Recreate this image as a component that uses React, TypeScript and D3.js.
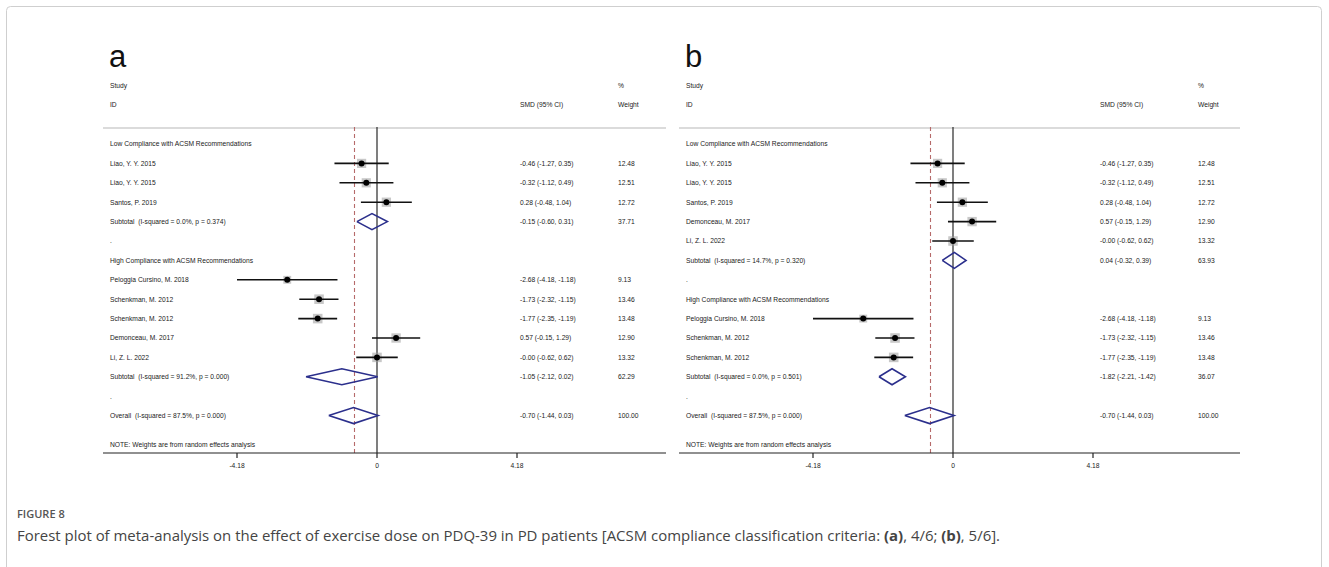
import React from 'react';
import * as d3 from 'd3';

// study-level values
const lowA = [
  { study: 'Liao, Y. Y. 2015', smd: -0.46, lo: -1.27, hi: 0.35, w: 12.48, txt: '-0.46 (-1.27, 0.35)' },
  { study: 'Liao, Y. Y. 2015', smd: -0.32, lo: -1.12, hi: 0.49, w: 12.51, txt: '-0.32 (-1.12, 0.49)' },
  { study: 'Santos, P. 2019', smd: 0.28, lo: -0.48, hi: 1.04, w: 12.72, txt: '0.28 (-0.48, 1.04)' },
];
const highA = [
  { study: 'Peloggia Cursino, M. 2018', smd: -2.68, lo: -4.18, hi: -1.18, w: 9.13, txt: '-2.68 (-4.18, -1.18)' },
  { study: 'Schenkman, M. 2012', smd: -1.73, lo: -2.32, hi: -1.15, w: 13.46, txt: '-1.73 (-2.32, -1.15)' },
  { study: 'Schenkman, M. 2012', smd: -1.77, lo: -2.35, hi: -1.19, w: 13.48, txt: '-1.77 (-2.35, -1.19)' },
  { study: 'Demonceau, M. 2017', smd: 0.57, lo: -0.15, hi: 1.29, w: 12.90, txt: '0.57 (-0.15, 1.29)' },
  { study: 'Li, Z. L. 2022', smd: -0.0, lo: -0.62, hi: 0.62, w: 13.32, txt: '-0.00 (-0.62, 0.62)' },
];
const lowB = [lowA[0], lowA[1], lowA[2], highA[3], highA[4]];
const highB = [highA[0], highA[1], highA[2]];

const subA = [
  { label: 'Subtotal  (I-squared = 0.0%, p = 0.374)', smd: -0.15, lo: -0.60, hi: 0.31, w: '37.71', txt: '-0.15 (-0.60, 0.31)' },
  { label: 'Subtotal  (I-squared = 91.2%, p = 0.000)', smd: -1.05, lo: -2.12, hi: 0.02, w: '62.29', txt: '-1.05 (-2.12, 0.02)' },
];
const subB = [
  { label: 'Subtotal  (I-squared = 14.7%, p = 0.320)', smd: 0.04, lo: -0.32, hi: 0.39, w: '63.93', txt: '0.04 (-0.32, 0.39)' },
  { label: 'Subtotal  (I-squared = 0.0%, p = 0.501)', smd: -1.82, lo: -2.21, hi: -1.42, w: '36.07', txt: '-1.82 (-2.21, -1.42)' },
];
const overall = { label: 'Overall  (I-squared = 87.5%, p = 0.000)', smd: -0.70, lo: -1.44, hi: 0.03, w: '100.00', txt: '-0.70 (-1.44, 0.03)' };

const groupNames = ['Low Compliance with ACSM Recommendations', 'High Compliance with ACSM Recommendations'];
const ticks = [-4.18, 0, 4.18];
const tickLabels = ['-4.18', '0', '4.18'];

const panels = [
  { letter: 'a', groups: [lowA, highA], subs: subA, left: 103, right: 666, textX: 110, zero: 377, smdX: 520, wX: 618 },
  { letter: 'b', groups: [lowB, highB], subs: subB, left: 679, right: 1240, textX: 686, zero: 953, smdX: 1100, wX: 1198 },
];

const FONT = '"Liberation Sans", Arial, sans-serif';
const FS = 6.7;
const TXT = '#1a1a1a';
const NAVY = '#2b2f8c';

const Panel = ({ p }: { p: any }) => {
  const x = d3.scaleLinear().domain([-4.18, 4.18]).range([p.zero - 140, p.zero + 140]);
  const y = d3.scaleLinear().domain([0, 1]).range([144, 163.4]);
  const top = 127, axisY = 453;

  // build the row list
  const rows: any[] = [];
  let i = 0;
  p.groups.forEach((g: any[], gi: number) => {
    rows.push({ kind: 'head', i: i++, label: groupNames[gi] });
    g.forEach((s) => rows.push({ kind: 'study', i: i++, ...s }));
    rows.push({ kind: 'sum', i: i++, ...p.subs[gi] });
    rows.push({ kind: 'dot', i: i++ });
  });
  rows.push({ kind: 'sum', i: i, ...overall });
  const noteRow = i + 1.5;

  const diamond = (r: any) => {
    const yy = y(r.i);
    return d3.line()([
      [x(r.lo), yy], [x(r.smd), yy - 8], [x(r.hi), yy], [x(r.smd), yy + 8], [x(r.lo), yy],
    ] as [number, number][]) as string;
  };

  const refX = Math.round(x(overall.smd)) + 0.5;

  return (
    <g fontFamily={FONT} fontSize={FS} fill={TXT}>
      <text x={p.textX - 1} y={67} fontSize={31} fill="#111">{p.letter}</text>
      <text x={p.textX} y={86} dy="0.35em">Study</text>
      <text x={p.textX} y={105} dy="0.35em">ID</text>
      <text x={p.smdX} y={105} dy="0.35em">SMD (95% CI)</text>
      <text x={p.wX} y={86} dy="0.35em">%</text>
      <text x={p.wX} y={105} dy="0.35em">Weight</text>
      <line x1={p.left} x2={p.right} y1={128} y2={128} stroke="#cfcfcf" strokeWidth={1.5} />

      <line x1={x(0)} x2={x(0)} y1={top} y2={axisY} stroke="#3a3a3a" strokeWidth={1.3} />
      <line x1={refX} x2={refX} y1={top} y2={axisY}
        stroke="#b66a6a" strokeWidth={1.1} strokeDasharray="4,3" />

      {rows.map((r, k) => {
        const yy = y(r.i);
        if (r.kind === 'head') return <text key={k} x={p.textX} y={yy} dy="0.35em">{r.label}</text>;
        if (r.kind === 'dot') return <text key={k} x={p.textX} y={yy} dy="0.35em">.</text>;
        if (r.kind === 'study') {
          const side = 2.6 * Math.sqrt(r.w);
          return (
            <g key={k}>
              <text x={p.textX} y={yy} dy="0.35em">{r.study}</text>
              <rect x={x(r.smd) - side / 2} y={yy - side / 2} width={side} height={side} fill="#9a9a9a" opacity={0.55} />
              <line x1={x(r.lo)} x2={x(r.hi)} y1={yy} y2={yy} stroke="#111" strokeWidth={1.6} />
              <circle cx={x(r.smd)} cy={yy} r={3} fill="#000" />
              <text x={p.smdX} y={yy} dy="0.35em">{r.txt}</text>
              <text x={p.wX} y={yy} dy="0.35em">{r.w.toFixed(2)}</text>
            </g>
          );
        }
        return (
          <g key={k}>
            <text x={p.textX} y={yy} dy="0.35em" style={{ whiteSpace: 'pre' }}>{r.label}</text>
            <path d={diamond(r)} fill="none" stroke={NAVY} strokeWidth={1.6} />
            <text x={p.smdX} y={yy} dy="0.35em">{r.txt}</text>
            <text x={p.wX} y={yy} dy="0.35em">{r.w}</text>
          </g>
        );
      })}

      <text x={p.textX} y={y(noteRow)} dy="0.35em">NOTE: Weights are from random effects analysis</text>

      <line x1={p.left} x2={p.right} y1={axisY} y2={axisY} stroke="#222" strokeWidth={1.2} />
      {ticks.map((t, ti) => (
        <g key={t}>
          <line x1={x(t)} x2={x(t)} y1={axisY} y2={axisY + 5} stroke="#222" strokeWidth={1.2} />
          <text x={x(t)} y={466} dy="0.35em" textAnchor="middle">{tickLabels[ti]}</text>
        </g>
      ))}
    </g>
  );
};

const App = () => (
  <svg width={1329} height={567} style={{ position: 'absolute', left: 0, top: 0, background: '#fff' }}>
    <rect x={6.5} y={6.5} width={1315} height={640} rx={4} fill="#fff" stroke="#cfcfcf" strokeWidth={1} />
    {panels.map((p) => <Panel key={p.letter} p={p} />)}
    <text x={17} y={518} fontFamily='"Open Sans", sans-serif' fontSize={11} fontWeight={600} fill="#555">FIGURE 8</text>
    <text x={17} y={541} fontFamily='"Open Sans", sans-serif' fontSize={14} fill="#444" textLength={983} lengthAdjust="spacingAndGlyphs">
      Forest plot of meta-analysis on the effect of exercise dose on PDQ-39 in PD patients [ACSM compliance classification criteria:{' '}
      <tspan fontWeight={700}>(a)</tspan>, 4/6; <tspan fontWeight={700}>(b)</tspan>, 5/6].
    </text>
  </svg>
);

export default App;
